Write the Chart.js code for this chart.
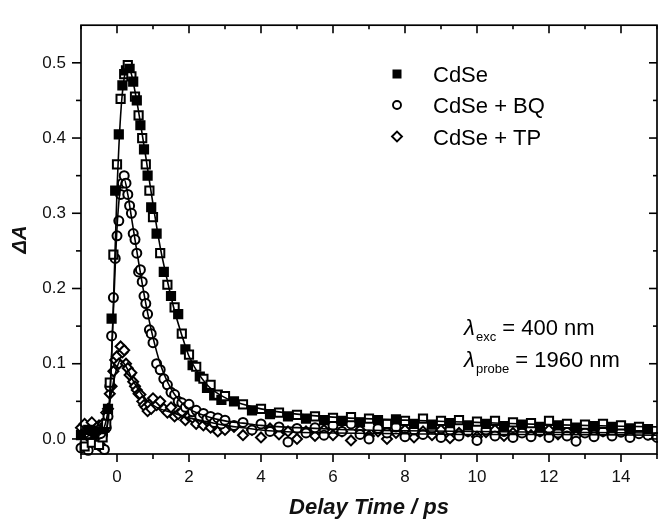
<!DOCTYPE html>
<html><head><meta charset="utf-8">
<script src="https://cdn.jsdelivr.net/npm/chart.js@4.4.1/dist/chart.umd.min.js"></script>
<style>html,body{margin:0;padding:0;background:#fff;}#wrap{width:658px;height:524px;}</style>
</head><body><div id="wrap"><canvas id="c" width="658" height="524"></canvas></div>
<script>
// delay times (ps) shared by the measured series
const times = [-1.0,-0.9,-0.8,-0.7,-0.6,
 -0.5,-0.45,-0.4,-0.35,-0.3,-0.25,-0.2,-0.15,-0.1,-0.05,0,0.05,0.1,0.15,0.2,0.25,0.3,0.35,0.4,0.45,0.5,0.55,0.6,0.65,0.7,0.75,0.8,0.85,0.9,0.95,1.0,
 1.1,1.2,1.3,1.4,1.5,1.6,1.7,1.8,1.9,2.0,2.1,2.2,2.3,2.4,2.5,2.6,2.7,2.8,2.9,3.0,
 3.25,3.5,3.75,4.0,4.25,4.5,4.75,5.0,5.25,5.5,5.75,6.0,6.25,6.5,6.75,7.0,7.25,7.5,7.75,8.0,
 8.25,8.5,8.75,9.0,9.25,9.5,9.75,10.0,10.25,10.5,10.75,11.0,11.25,11.5,11.75,12.0,
 12.25,12.5,12.75,13.0,13.25,13.5,13.75,14.0,14.25,14.5,14.75,15.0];

const cdse = [0.005,-0.01,0.012,-0.005,0.008,
 -0.008,0.01,0.002,0.015,0.02,0.04,0.075,0.16,0.245,0.33,0.365,0.405,0.452,0.47,0.485,0.49,0.497,0.492,0.482,0.475,0.455,0.45,0.43,0.417,0.40,0.385,0.365,0.35,0.33,0.308,0.295,
 0.273,0.247,0.222,0.205,0.19,0.175,0.166,0.14,0.119,0.112,0.098,0.096,0.083,0.08,0.068,0.072,0.058,0.059,0.052,0.057,
 0.05,0.046,0.038,0.04,0.033,0.035,0.03,0.032,0.027,0.03,0.025,0.028,0.024,0.029,0.022,0.027,0.025,0.02,0.026,0.024,
 0.02,0.027,0.019,0.024,0.021,0.025,0.018,0.023,0.02,0.024,0.017,0.022,0.019,0.021,0.016,0.024,
 0.018,0.02,0.015,0.019,0.017,0.02,0.016,0.018,0.014,0.016,0.013,null];

const cdseBQ = [-0.012,0.008,-0.015,0.01,-0.004,
 0.012,-0.01,0.006,-0.014,0.015,0.03,0.07,0.137,0.188,0.24,0.27,0.29,0.325,0.34,0.35,0.34,0.325,0.31,0.30,0.273,0.265,0.247,0.222,0.225,0.209,0.19,0.18,0.166,0.145,0.14,0.128,
 0.10,0.092,0.08,0.072,0.062,0.059,0.05,0.048,0.042,0.046,0.036,0.038,0.03,0.034,0.027,0.03,0.022,0.028,0.02,0.025,
 0.018,0.022,0.012,0.02,0.01,0.016,-0.004,0.014,0.008,0.015,0.005,0.018,0.01,0.02,0.006,0.0,0.014,0.008,0.016,0.003,
 0.012,0.006,0.014,0.002,0.012,0.004,0.01,-0.002,0.012,0.004,0.01,0.002,0.008,0.003,0.01,0.002,
 0.008,0.004,-0.003,0.008,0.003,0.01,0.004,0.009,0.002,0.007,0.005,0.002];

const cdseTP = [0.015,0.02,0.003,0.022,0.01,
 0.018,0.005,0.02,0.012,0.035,0.04,0.06,0.07,0.09,0.105,0.11,0.1,0.123,0.115,0.118,0.1,0.094,0.085,0.088,0.076,0.07,0.065,0.06,0.059,0.05,0.045,0.042,0.037,0.046,0.04,0.054,
 0.045,0.05,0.04,0.035,0.042,0.03,0.033,0.036,0.025,0.03,0.028,0.02,0.026,0.018,0.024,0.015,0.02,0.01,0.018,0.012,
 0.016,0.005,0.012,0.002,0.014,0.006,0.01,0.0,0.01,0.004,0.012,0.005,0.01,-0.002,0.012,0.004,0.01,0.0,0.008,0.012,
 0.002,0.01,0.005,0.012,0.001,0.008,0.01,0.003,0.009,0.012,0.004,0.008,0.01,0.005,0.01,0.012,
 0.006,0.01,0.004,0.011,0.007,0.01,0.008,0.012,0.006,0.011,0.006,null];

// fitted curves
const fitTimes = [-1,-0.6,-0.4,-0.3,-0.2,-0.1,0,0.1,0.2,0.3,0.4,0.5,0.6,0.8,1.0,1.2,1.4,1.6,1.8,2.0,2.5,3,3.5,4,5,6,8,10,12,15];
const cdseFit   = [0,0,0.002,0.01,0.05,0.18,0.33,0.43,0.48,0.495,0.485,0.462,0.435,0.375,0.312,0.255,0.21,0.17,0.138,0.11,0.072,0.055,0.046,0.04,0.033,0.029,0.025,0.022,0.019,0.016];
const cdseBQFit = [0,0,0.002,0.01,0.06,0.17,0.28,0.335,0.345,0.325,0.295,0.265,0.235,0.18,0.135,0.1,0.076,0.059,0.048,0.04,0.03,0.024,0.021,0.018,0.015,0.013,0.011,0.01,0.009,0.008];
const cdseTPFit = [0,0.003,0.01,0.025,0.05,0.075,0.095,0.105,0.1,0.092,0.082,0.073,0.065,0.053,0.045,0.04,0.037,0.034,0.031,0.028,0.023,0.018,0.015,0.012,0.009,0.008,0.007,0.006,0.006,0.005];

const seriesLabels = ['CdSe','CdSe + BQ','CdSe + TP'];
const xTickValues = [0,2,4,6,8,10,12,14];
const xMinorValues = [-1,1,3,5,7,9,11,13,15];
const yTickValues = [0,0.1,0.2,0.3,0.4,0.5];
const yMinorValues = [0.05,0.15,0.25,0.35,0.45];
const xTitle = 'Delay Time / ps';
const yTitle = 'ΔA';
const noteLines = [['exc','= 400 nm'],['probe','= 1960 nm']];

const FONT = "'Liberation Sans', Arial, Helvetica, sans-serif";
const pts = (xs, ys) => xs.map((t,i)=>({x:t,y:ys[i]})).filter(p=>p.y!==null);

const scatterBase = {showLine:false, borderColor:'#000', pointBorderWidth:2, order:2, clip:false};
const fitBase = {showLine:true, pointRadius:0, borderColor:'#000', borderWidth:1.6, cubicInterpolationMode:'monotone', order:0, fill:false};

const decor = {
  id:'decor',
  afterDraw(chart){
    const {ctx, chartArea:{left,right,top,bottom}, scales:{x,y}} = chart;
    ctx.save();
    ctx.strokeStyle='#000'; ctx.fillStyle='#000';
    ctx.lineWidth=1.7;
    ctx.strokeRect(left,top,right-left,bottom-top);
    const seg=(x1,y1,x2,y2)=>{ctx.beginPath();ctx.moveTo(x1,y1);ctx.lineTo(x2,y2);ctx.stroke();};
    ctx.lineWidth=1.6;
    xTickValues.forEach(v=>{const p=x.getPixelForValue(v); seg(p,bottom,p,bottom+8); seg(p,top,p,top+8);});
    xMinorValues.forEach(v=>{const p=x.getPixelForValue(v); seg(p,bottom,p,bottom+5); seg(p,top,p,top+4);});
    yTickValues.forEach(v=>{const p=y.getPixelForValue(v); seg(left-9,p,left,p); seg(right-8,p,right,p);});
    yMinorValues.forEach(v=>{const p=y.getPixelForValue(v); seg(left-5,p,left,p); seg(right-4,p,right,p);});
    // legend
    const lx=397, rows=[74,105,136.5];
    ctx.lineWidth=1.9;
    ctx.fillRect(lx-4.5,rows[0]-4.5,9,9);
    ctx.beginPath(); ctx.arc(lx,rows[1],4,0,Math.PI*2); ctx.stroke();
    ctx.beginPath(); ctx.moveTo(lx-5,rows[2]); ctx.lineTo(lx,rows[2]-5); ctx.lineTo(lx+5,rows[2]); ctx.lineTo(lx,rows[2]+5); ctx.closePath(); ctx.stroke();
    ctx.font='22px '+FONT; ctx.textBaseline='alphabetic'; ctx.textAlign='left';
    chart.data.datasets.filter(d=>d.legendRow!==undefined).forEach(d=>{
      ctx.fillText(d.label, 433, rows[d.legendRow]+8);
    });
    // annotation
    const base=[335,367];
    noteLines.forEach((ln,i)=>{
      ctx.font='italic 22px '+FONT;
      ctx.fillText('λ',464,base[i]);
      ctx.font='13px '+FONT;
      ctx.fillText(ln[0],476,base[i]+6);
      const sw=ctx.measureText(ln[0]).width;
      ctx.font='22px '+FONT;
      ctx.fillText(ln[1],476+sw+6,base[i]);
    });
    ctx.restore();
  }
};

new Chart(document.getElementById('c'), {
  type:'scatter',
  data:{datasets:[
    Object.assign({label:seriesLabels[0], legendRow:0, data:pts(times,cdse), pointStyle:'rect', pointRadius:5.8,
      pointBackgroundColor:(c)=> (c.dataIndex%2===0 ? '#000' : '#fff')}, scatterBase),
    Object.assign({label:seriesLabels[1], legendRow:1, data:pts(times,cdseBQ), pointStyle:'circle', pointRadius:4.5, pointBackgroundColor:'#fff'}, scatterBase),
    Object.assign({label:seriesLabels[2], legendRow:2, data:pts(times,cdseTP), pointStyle:'rectRot', pointRadius:5, pointBackgroundColor:'#fff'}, scatterBase),
    Object.assign({label:seriesLabels[0]+' fit', data:pts(fitTimes,cdseFit)}, fitBase),
    Object.assign({label:seriesLabels[1]+' fit', data:pts(fitTimes,cdseBQFit)}, fitBase),
    Object.assign({label:seriesLabels[2]+' fit', data:pts(fitTimes,cdseTPFit)}, fitBase)
  ]},
  options:{
    responsive:false, devicePixelRatio:1, animation:false,
    layout:{padding:{top:12,right:1,left:0,bottom:0}, autoPadding:false},
    plugins:{legend:{display:false}, tooltip:{enabled:false}},
    scales:{
      x:{type:'linear', min:-1, max:15,
        grid:{display:false, drawTicks:false}, border:{display:false},
        afterBuildTicks:(s)=>{s.ticks=xTickValues.map(v=>({value:v}));},
        afterFit:(s)=>{s.height=70;},
        ticks:{padding:13, color:'#111', font:{family:FONT,size:17}, callback:(v)=>String(v)},
        title:{display:true, text:xTitle, color:'#111', padding:{top:0,bottom:3}, font:{family:FONT,size:22,weight:'bold',style:'italic'}}
      },
      y:{type:'linear', min:-0.02, max:0.55,
        grid:{display:false, drawTicks:false}, border:{display:false},
        afterBuildTicks:(s)=>{s.ticks=yTickValues.map(v=>({value:v}));},
        afterFit:(s)=>{s.width=81;},
        ticks:{padding:15, color:'#111', font:{family:FONT,size:17}, callback:(v)=>Number(v).toFixed(1)},
        title:{display:true, text:yTitle, color:'#111', padding:{top:8,bottom:0}, font:{family:FONT,size:20,weight:'bold',style:'italic'}}
      }
    }
  },
  plugins:[decor]
});
</script>
</body></html>
